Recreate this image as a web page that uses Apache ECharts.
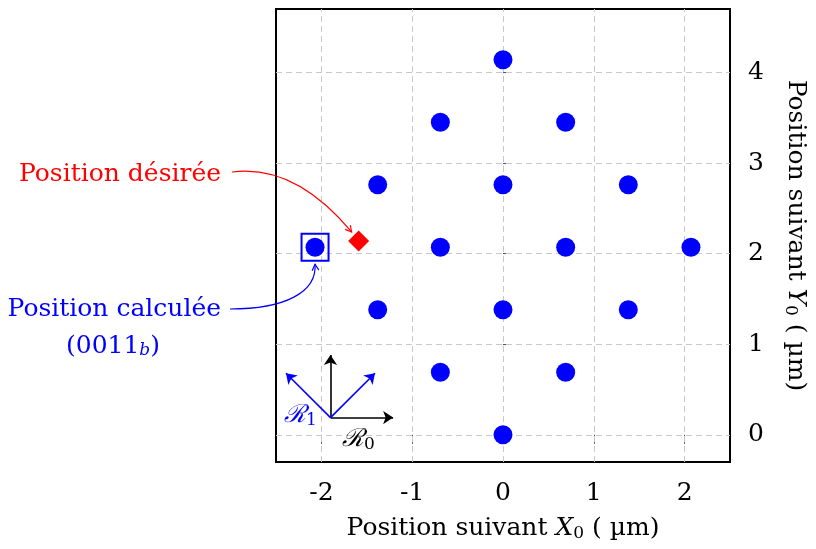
<!DOCTYPE html>
<html>
<head>
<meta charset="utf-8">
<script src="https://cdn.jsdelivr.net/npm/echarts@6/dist/echarts.min.js"></script>
<style>html,body{margin:0;padding:0;background:#fff;}#c{width:816px;height:549px;}</style>
</head>
<body>
<div id="c"></div>
<script>
// ---- data ----
const latticeX = [0, -0.69, 0.69, -1.38, 0, 1.38, -2.07, -0.69, 0.69, 2.07, -1.38, 0, 1.38, -0.69, 0.69, 0];
const latticeY = [0, 0.69, 0.69, 1.38, 1.38, 1.38, 2.07, 2.07, 2.07, 2.07, 2.76, 2.76, 2.76, 3.45, 3.45, 4.14];
const desiredPos = [-1.59, 2.14];
const computedPos = [-2.07, 2.07];
const xTicks = [-2, -1, 0, 1, 2];
const yTicks = [0, 1, 2, 3, 4];
const xRange = [-2.5, 2.5];
const yRange = [-0.3, 4.7];
const frameOrigin = [-1.9, 0.19];
const frameR0 = [[0.69, 0], [0, 0.69]];
const frameR1 = [[-0.49, 0.49], [0.49, 0.49]];
const labelDesired = 'Position désirée';
const labelComputed = 'Position calculée';
const labelCode = '(0011{sub|b})';

const FONT = '"DejaVu Serif", "Liberation Serif", serif';
const FS = 25, SFS = 17;
const BLUE = '#0000ff', RED = '#ff0000';

const chart = echarts.init(document.getElementById('c'), null, {renderer: 'canvas'});

const gridLines = [];
xTicks.forEach(v => gridLines.push({coords: [[v, yRange[0]], [v, yRange[1]]]}));
yTicks.forEach(v => gridLines.push({coords: [[xRange[0], v], [xRange[1], v]]}));

const frameLines = (vecs) => vecs.map(d => ({coords: [frameOrigin, [frameOrigin[0] + d[0], frameOrigin[1] + d[1]]]}));

const nameRich = {
  it: {fontFamily: FONT, fontStyle: 'italic', fontSize: FS},
  sub: {fontFamily: FONT, fontSize: SFS, verticalAlign: 'bottom', padding: [10, 0, 0, 0]}
};

const option = {
  animation: false,
  backgroundColor: '#fff',
  grid: {left: 276, right: 86, top: 9, bottom: 87, show: true, borderColor: '#000', borderWidth: 2, backgroundColor: 'transparent'},
  xAxis: {
    type: 'value', min: xRange[0], max: xRange[1],
    axisLine: {show: false},
    axisTick: {show: true, customValues: xTicks, length: 9, lineStyle: {color: '#555', width: 1}},
    axisLabel: {customValues: xTicks, fontFamily: FONT, fontSize: FS, color: '#000', margin: 19, formatter: v => String(v)},
    splitLine: {show: false},
    name: 'Position suivant {it|X}{sub|0} ( µm)',
    nameLocation: 'middle', nameGap: 53,
    nameTextStyle: {fontFamily: FONT, fontSize: FS, color: '#000', rich: nameRich}
  },
  yAxis: {
    type: 'value', position: 'right', min: yRange[0], max: yRange[1],
    axisLine: {show: false},
    axisTick: {show: true, customValues: yTicks, length: 9, lineStyle: {color: '#555', width: 1}},
    axisLabel: {customValues: yTicks, fontFamily: FONT, fontSize: FS, color: '#000', margin: 18, formatter: v => String(v)},
    splitLine: {show: false},
    name: 'Position suivant {it|Y}{sub|0} ( µm)',
    nameLocation: 'middle', nameGap: 52, nameRotate: -90,
    nameTextStyle: {fontFamily: FONT, fontSize: FS, color: '#000', rich: nameRich}
  },
  series: [
    {type: 'lines', coordinateSystem: 'cartesian2d', silent: true, z: 1,
      lineStyle: {color: '#c8c8c8', width: 1, type: [6, 4], opacity: 1}, data: gridLines},
    {type: 'scatter', symbol: 'circle', symbolSize: 19, itemStyle: {color: BLUE, opacity: 1}, z: 3,
      data: latticeX.map((x, i) => [x, latticeY[i]])},
    {type: 'scatter', symbol: 'rect', symbolSize: 27, z: 4,
      itemStyle: {color: 'rgba(0,0,0,0)', borderColor: BLUE, borderWidth: 2, opacity: 1}, data: [computedPos]},
    {type: 'scatter', symbol: 'diamond', symbolSize: 21, itemStyle: {color: RED, opacity: 1}, z: 4, data: [desiredPos]},
    {type: 'lines', coordinateSystem: 'cartesian2d', silent: true, z: 5, symbol: ['none', 'arrow'], symbolSize: 10,
      lineStyle: {color: '#000', width: 1.6, opacity: 1}, data: frameLines(frameR0)},
    {type: 'lines', coordinateSystem: 'cartesian2d', silent: true, z: 5, symbol: ['none', 'arrow'], symbolSize: 10,
      lineStyle: {color: BLUE, width: 1.6, opacity: 1}, data: frameLines(frameR1)}
  ]
};
chart.setOption(option);

function arrowHead(tip, from, color) {
  const ang = Math.atan2(tip[1] - from[1], tip[0] - from[0]);
  const L = 7, a = 0.5;
  const p1 = [tip[0] - L * Math.cos(ang - a), tip[1] - L * Math.sin(ang - a)];
  const p2 = [tip[0] - L * Math.cos(ang + a), tip[1] - L * Math.sin(ang + a)];
  return {type: 'polyline', shape: {points: [p1, tip, p2]}, style: {stroke: color, fill: null, lineWidth: 1.2}, z: 10};
}

const dPix = chart.convertToPixel({gridIndex: 0}, desiredPos);
const cPix = chart.convertToPixel({gridIndex: 0}, computedPos);
const oPix = chart.convertToPixel({gridIndex: 0}, frameOrigin);

const redStart = [232, 172];
const redTip = [dPix[0] - 7, dPix[1] - 9];
const redC1 = [285, 165], redC2 = [325, 200];
const blueStart = [230, 309];
const blueTip = [cPix[0], cPix[1] + 17];
const blueC1 = [285, 309], blueC2 = [cPix[0] + 2, cPix[1] + 45];

const richSub = {sub: {fontFamily: FONT, fontSize: SFS, fontStyle: 'italic', verticalAlign: 'bottom', padding: [10, 0, 0, 0]}};

chart.setOption({
  graphic: [
    {type: 'bezierCurve', shape: {x1: redStart[0], y1: redStart[1], cpx1: redC1[0], cpy1: redC1[1], cpx2: redC2[0], cpy2: redC2[1], x2: redTip[0], y2: redTip[1]},
      style: {stroke: RED, fill: null, lineWidth: 1.2}, z: 10},
    arrowHead(redTip, redC2, RED),
    {type: 'bezierCurve', shape: {x1: blueStart[0], y1: blueStart[1], cpx1: blueC1[0], cpy1: blueC1[1], cpx2: blueC2[0], cpy2: blueC2[1], x2: blueTip[0], y2: blueTip[1]},
      style: {stroke: BLUE, fill: null, lineWidth: 1.2}, z: 10},
    arrowHead(blueTip, blueC2, BLUE),
    {type: 'text', x: 221, y: 174, z: 10, style: {text: labelDesired, fill: RED, font: FS + 'px ' + FONT, align: 'right', verticalAlign: 'middle'}},
    {type: 'text', x: 221, y: 309, z: 10, style: {text: labelComputed, fill: BLUE, font: FS + 'px ' + FONT, align: 'right', verticalAlign: 'middle'}},
    {type: 'text', x: 113, y: 346, z: 10, style: {text: labelCode, fill: BLUE, font: FS + 'px ' + FONT, align: 'center', verticalAlign: 'middle', rich: richSub}},
    {type: 'text', x: oPix[0] - 30, y: oPix[1] - 2, z: 10, style: {text: 'ℛ{s|1}', fill: BLUE, font: 'italic ' + FS + 'px ' + FONT, align: 'center', verticalAlign: 'middle',
      rich: {s: {fontFamily: FONT, fontSize: SFS, fill: BLUE, verticalAlign: 'bottom', padding: [10, 0, 0, 0]}}}},
    {type: 'text', x: oPix[0] + 28, y: oPix[1] + 22, z: 10, style: {text: 'ℛ{s|0}', fill: '#000', font: 'italic ' + FS + 'px ' + FONT, align: 'center', verticalAlign: 'middle',
      rich: {s: {fontFamily: FONT, fontSize: SFS, fill: '#000', verticalAlign: 'bottom', padding: [10, 0, 0, 0]}}}}
  ]
});
</script>
</body>
</html>
